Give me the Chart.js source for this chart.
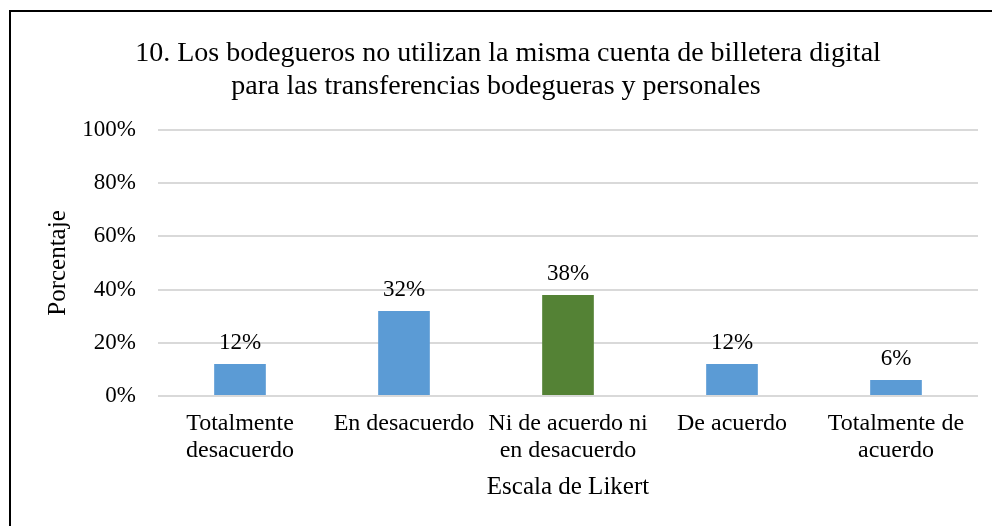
<!DOCTYPE html>
<html>
<head>
<meta charset="utf-8">
<script src="https://cdn.jsdelivr.net/npm/chart.js@4/dist/chart.umd.min.js"></script>
<style>
    html, body { margin: 0; padding: 0; background: #fff; }
    #wrap { width: 992px; height: 526px; position: relative; }
</style>
</head>
<body>
<div id="wrap"><canvas id="chart"></canvas></div>
<script>
// Chart data
const titleLines = [
    '10. Los bodegueros no utilizan la misma cuenta de billetera digital',
    'para las transferencias bodegueras y personales'
];
const categories = [
    ['Totalmente', 'desacuerdo'],
    'En desacuerdo',
    ['Ni de acuerdo ni', 'en desacuerdo'],
    'De acuerdo',
    ['Totalmente de', 'acuerdo']
];
const percentages = [12, 32, 38, 12, 6];
const barColors = ['#5b9bd5', '#5b9bd5', '#548235', '#5b9bd5', '#5b9bd5'];
const yTicks = [0, 20, 40, 60, 80, 100];

const serif = '"Liberation Serif", "Times New Roman", serif';

// Frame + two-line title drawn on the canvas
const framePlugin = {
    id: 'frame',
    beforeDraw(chart) {
        const ctx = chart.ctx;
        ctx.save();
        ctx.fillStyle = '#fff';
        ctx.fillRect(0, 0, chart.width, chart.height);
        ctx.strokeStyle = '#000';
        ctx.lineWidth = 2;
        ctx.strokeRect(10, 11, 1200, 800);
        ctx.fillStyle = '#000';
        ctx.font = '28px ' + serif;
        ctx.textAlign = 'center';
        ctx.textBaseline = 'middle';
        ctx.fillText(titleLines[0], 508, 54);
        ctx.fillText(titleLines[1], 496, 87);
        ctx.restore();
    }
};

// Value labels above the bars
const valueLabels = {
    id: 'valueLabels',
    afterDatasetsDraw(chart) {
        const ctx = chart.ctx;
        const meta = chart.getDatasetMeta(0);
        ctx.save();
        ctx.fillStyle = '#000';
        ctx.font = '23px ' + serif;
        ctx.textAlign = 'center';
        ctx.textBaseline = 'middle';
        meta.data.forEach((bar, i) => {
            ctx.fillText(percentages[i] + '%', bar.x, bar.y - 21);
        });
        ctx.restore();
    }
};

new Chart(document.getElementById('chart'), {
    type: 'bar',
    data: {
        labels: categories,
        datasets: [{
            data: percentages,
            backgroundColor: barColors,
            borderWidth: 0,
            barPercentage: 0.315,
            categoryPercentage: 1
        }]
    },
    options: {
        responsive: true,
        maintainAspectRatio: false,
        animation: false,
        layout: { padding: { top: 130, right: 14, bottom: 0, left: 0 } },
        plugins: {
            legend: { display: false },
            tooltip: { enabled: false }
        },
        scales: {
            x: {
                grid: { display: false },
                border: { display: false },
                ticks: {
                    color: '#000',
                    font: { family: serif, size: 24, lineHeight: 1.13 },
                    padding: 6,
                    maxRotation: 0,
                    autoSkip: false
                },
                title: {
                    display: true,
                    text: 'Escala de Likert',
                    color: '#000',
                    font: { family: serif, size: 25, lineHeight: 1.2 },
                    padding: { top: 0, bottom: 24 }
                },
                afterFit(scale) { scale.height = 130; }
            },
            y: {
                min: 0,
                max: 100,
                afterBuildTicks(scale) {
                    scale.ticks = yTicks.map(v => ({ value: v }));
                },
                grid: { color: '#d9d9d9', lineWidth: 2, drawTicks: false },
                border: { display: false },
                ticks: {
                    color: '#000',
                    font: { family: serif, size: 23 },
                    padding: 22,
                    callback: v => v + '%'
                },
                title: {
                    display: true,
                    text: 'Porcentaje',
                    color: '#000',
                    font: { family: serif, size: 25, lineHeight: 1.2 },
                    padding: { top: 43, bottom: 0 }
                },
                afterFit(scale) { scale.width = 158; }
            }
        }
    },
    plugins: [framePlugin, valueLabels]
});
</script>
</body>
</html>
